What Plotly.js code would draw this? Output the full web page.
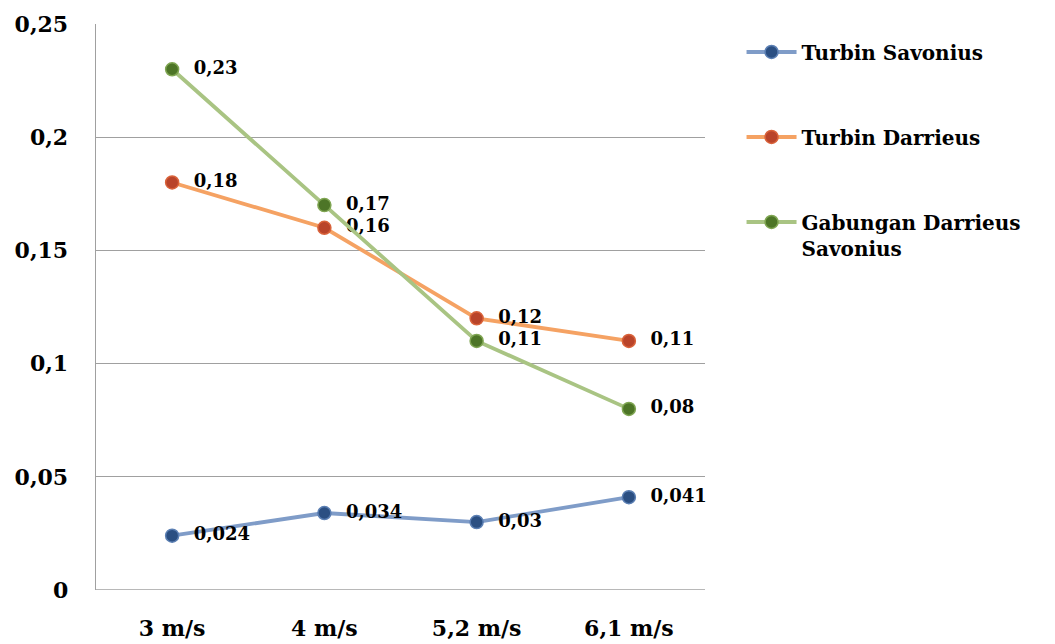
<!DOCTYPE html>
<html>
<head>
<meta charset="utf-8">
<script src="https://cdn.plot.ly/plotly-3.0.1.min.js"></script>
<style>html,body{margin:0;padding:0;background:#fff;}#chart{width:1055px;height:644px;}</style>
</head>
<body>
<div id="chart"></div>
<script>
var categories = ["3 m/s", "4 m/s", "5,2 m/s", "6,1 m/s"];
var savonius = [0.024, 0.034, 0.03, 0.041];
var darrieus = [0.18, 0.16, 0.12, 0.11];
var gabungan = [0.23, 0.17, 0.11, 0.08];
var savoniusLabels = ["0,024", "0,034", "0,03", "0,041"];
var darrieusLabels = ["0,18", "0,16", "0,12", "0,11"];
var gabunganLabels = ["0,23", "0,17", "0,11", "0,08"];
var yTickVals = [0, 0.05, 0.1, 0.15, 0.2, 0.25];
var yTickText = ["0", "0,05", "0,1", "0,15", "0,2", "0,25"];
var names = ["Turbin Savonius", "Turbin Darrieus", "Gabungan Darrieus<br>Savonius"];

var FONT = "DejaVu Serif";
function pad(arr){ return arr.map(function(s){ return "  " + s; }); }

function trace(y, labels, name, lineColor, markerColor, markerLine, group){
  return {
    x: categories, y: y, name: name, type: "scatter", mode: "lines+markers+text",
    text: pad(labels), textposition: "middle right",
    textfont: {family: FONT, size: 18, color: "#000", weight: "bold"},
    line: {color: lineColor, width: 3.8},
    marker: {color: markerColor, size: 13, line: {color: markerLine, width: 1.5}},
    legendgroup: group, cliponaxis: false, hoverinfo: "none"
  };
}

var data = [
  trace(savonius, savoniusLabels, names[0], "#7f9cc8", "#2b4f82", "#5b7fb3", "a"),
  trace(darrieus, darrieusLabels, names[1], "#f5a263", "#b9442a", "#d9623a", "b"),
  trace(gabungan, gabunganLabels, names[2], "#a9c483", "#4d7527", "#7fa552", "c")
];

var layout = {
  width: 1055, height: 644,
  margin: {l: 96, r: 350, t: 24, b: 54},
  paper_bgcolor: "#fff", plot_bgcolor: "#fff",
  font: {family: FONT, color: "#000", weight: "bold"},
  showlegend: true,
  legend: {
    x: 1.06, y: 0.985, xanchor: "left", yanchor: "top",
    font: {family: FONT, size: 20, color: "#000", weight: "bold"},
    traceorder: "grouped", tracegroupgap: 56, valign: "top",
    itemwidth: 50, bgcolor: "rgba(0,0,0,0)"
  },
  xaxis: {
    type: "category", range: [-0.5, 3.5],
    showgrid: false, zeroline: false, showline: false,
    ticks: "", ticklabelstandoff: 23,
    tickfont: {family: FONT, size: 22, color: "#000", weight: "bold"},
    fixedrange: true
  },
  yaxis: {
    range: [0, 0.25], tickvals: yTickVals, ticktext: yTickText,
    showgrid: true, gridcolor: "#a0a0a0", gridwidth: 1.4,
    zeroline: false, showline: true, linecolor: "#a0a0a0", linewidth: 1.4,
    ticks: "", ticklabelstandoff: 22,
    tickfont: {family: FONT, size: 22, color: "#000", weight: "bold"},
    fixedrange: true
  },
  shapes: [{type: "line", xref: "paper", yref: "y", x0: 0, x1: 1, y0: 0, y1: 0, line: {color: "#a0a0a0", width: 1.4}}]
};

Plotly.newPlot("chart", data, layout, {displayModeBar: false, staticPlot: true});
</script>
</body>
</html>
